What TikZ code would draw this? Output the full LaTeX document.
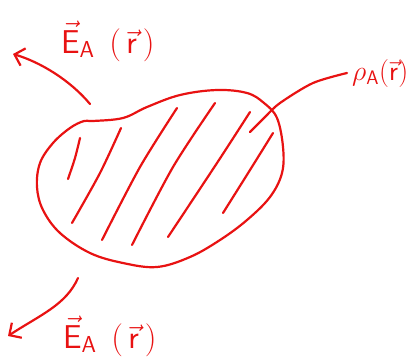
\RequirePackage{fix-cm}
\documentclass[tikz,border=0pt]{standalone}
\usetikzlibrary{arrows.meta}
\definecolor{ink}{RGB}{232,18,18}
\begin{document}
\begin{tikzpicture}[x=1pt,y=-1pt,
  pen/.style={draw=ink,line width=2.2pt,line cap=round,line join=round},
  hatch/.style={pen},
  arrowpen/.style={pen,-{Straight Barb[length=9pt,width=18pt,line width=2.2pt]}},
  lbl/.style={text=ink,inner sep=0pt,font=\fontsize{33}{36}\selectfont},
  rholbl/.style={text=ink,inner sep=0pt,font=\fontsize{28}{30}\selectfont}]
\useasboundingbox (0,0) rectangle (414,360);
% blob
\draw[pen] plot[smooth cycle,tension=0.6] coordinates {
 (93,121) (123,118) (147,107) (180,95) (217,90) (247,93) (264,103) (277,118)
 (283,147) (282,173) (270,197) (247,220) (220,240) (190,257) (157,267)
 (123,263) (90,253) (60,233) (43,210) (37,187) (40,163) (53,143) (70,128) (84,121)};
% hatching
\draw[hatch] plot[smooth] coordinates {(80,138) (75,158) (68,179)};
\draw[hatch] plot[smooth] coordinates {(121,128) (100,173) (72,223)};
\draw[hatch] plot[smooth] coordinates {(177,108) (140,167) (102,240)};
\draw[hatch] plot[smooth] coordinates {(215,103) (173,167) (132,245)};
\draw[hatch] plot[smooth] coordinates {(250,112) (217,163) (168,237)};
\draw[hatch] plot[smooth] coordinates {(273,133) (250,170) (223,213)};
% rho connector
\coordinate (rhoend) at (250,132);
\coordinate (rhostart) at (347,73);
\draw[pen] plot[smooth] coordinates {(250,132) (265,117) (280,103) (313,83) (347,73)};
% field arrows
\coordinate (up0) at (90,104);
\coordinate (up1) at (13,54);
\draw[arrowpen] (up0) .. controls (70,80) and (40,62) .. (up1);
\coordinate (dn0) at (78,278);
\coordinate (dn1) at (8,336);
\draw[arrowpen] (dn0) .. controls (66,305) and (40,315) .. (dn1);
% labels
\node[lbl,anchor=base west] (Etop) at (61,53) {$\vec{\mathsf{E}}_{\mathsf{A}}\;\,(\,\vec{\mathsf{r}}\,)$};
\node[lbl,anchor=base west] (Ebot) at (63,348) {$\vec{\mathsf{E}}_{\mathsf{A}}\;\,(\,\vec{\mathsf{r}}\,)$};
\node[rholbl,anchor=base west] (rho) at (352,80) {$\rho_{\mathsf{A}}(\vec{\mathsf{r}})$};
\end{tikzpicture}
\end{document}
